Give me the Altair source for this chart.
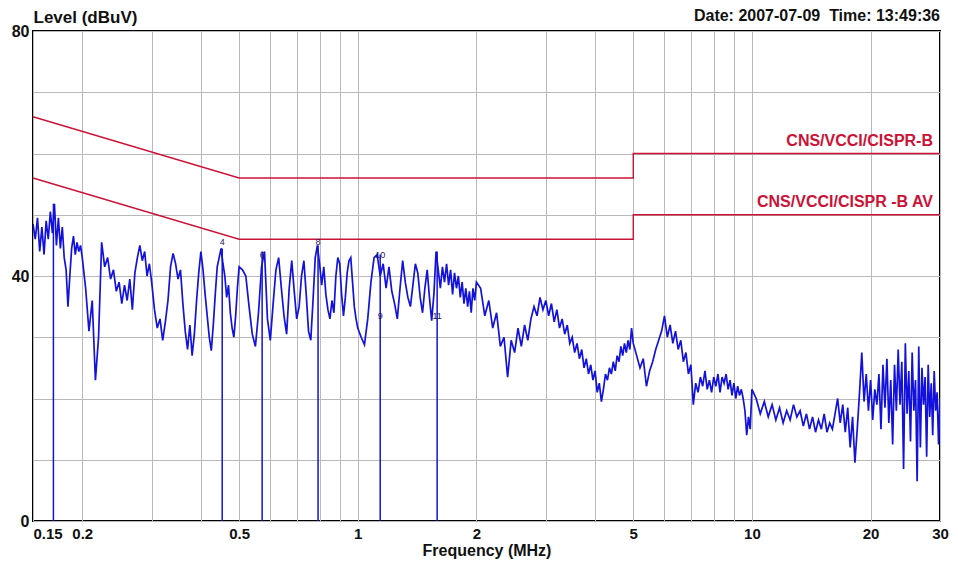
import altair as alt
import pandas as pd

# ---------------- measured trace (frequency MHz, level dBuV) ----------------
F_A = [0.150, 0.152, 0.154, 0.156, 0.158, 0.160, 0.162, 0.164, 0.166, 0.168,
       0.170, 0.172, 0.174, 0.176, 0.178, 0.180, 0.182, 0.184, 0.186, 0.188,
       0.190, 0.192, 0.194, 0.196, 0.198, 0.200]
L_A = [48.5, 46.0, 49.5, 44.0, 48.0, 43.5, 49.0, 46.0, 50.5, 47.0,
       51.8, 45.0, 49.5, 44.5, 48.0, 43.0, 41.0, 35.0, 40.0, 44.5,
       46.5, 43.5, 45.5, 44.0, 45.0, 43.0]

F_B = [0.204, 0.208, 0.212, 0.216, 0.220, 0.224, 0.228, 0.232, 0.236, 0.240,
       0.244, 0.248, 0.252, 0.256, 0.260, 0.264, 0.268, 0.272, 0.276, 0.280,
       0.284, 0.288, 0.292, 0.296, 0.300]
L_B = [38.0, 31.0, 36.0, 23.0, 30.0, 45.5, 41.5, 43.0, 39.5, 41.0,
       37.5, 39.0, 35.5, 38.5, 36.0, 39.5, 34.5, 40.5, 43.0, 45.0,
       42.5, 44.0, 40.0, 42.0, 39.0]

F_C = [0.305, 0.310, 0.315, 0.320, 0.325, 0.330, 0.335, 0.340, 0.345, 0.350,
       0.355, 0.360, 0.365, 0.370, 0.375, 0.380, 0.385, 0.390, 0.395, 0.400,
       0.405, 0.410, 0.415, 0.420, 0.425, 0.430, 0.435, 0.440, 0.445, 0.450,
       0.455, 0.460, 0.465, 0.470, 0.475, 0.480, 0.485, 0.490, 0.495, 0.500]
L_C = [34.5, 31.5, 33.0, 29.5, 32.5, 36.0, 41.5, 43.7, 42.0, 39.5,
       41.0, 35.5, 31.0, 28.0, 32.0, 27.0, 30.5, 36.0, 40.5, 44.0,
       41.0, 37.0, 33.5, 30.0, 27.8, 32.0, 37.0, 41.5, 43.0, 44.5,
       42.0, 40.0, 36.5, 38.5, 34.0, 31.5, 30.0, 33.5, 38.0, 41.5]

F_D = [0.51, 0.52, 0.53, 0.54, 0.55, 0.56, 0.57, 0.58, 0.59, 0.60,
       0.61, 0.62, 0.63, 0.64, 0.65, 0.66, 0.67, 0.68, 0.69, 0.70,
       0.71, 0.72, 0.73, 0.74, 0.75, 0.76, 0.77, 0.78, 0.79, 0.80,
       0.81, 0.82, 0.83, 0.84, 0.85, 0.86, 0.87, 0.88, 0.89, 0.90,
       0.91, 0.92, 0.93, 0.94, 0.95, 0.96, 0.97, 0.98, 0.99, 1.00]
L_D = [41.0, 40.0, 35.0, 30.5, 28.5, 34.0, 41.5, 44.0, 33.0, 29.5,
       35.5, 41.0, 43.0, 38.0, 33.5, 30.5, 38.0, 42.5, 37.5, 33.0,
       35.0, 40.0, 42.5, 37.0, 31.0, 29.5, 36.0, 43.0, 45.0, 42.0,
       38.5, 41.5, 37.0, 34.5, 33.0, 36.0, 34.0, 40.0, 43.0, 42.0,
       37.0, 33.5, 36.5, 40.5, 42.5, 43.0, 39.0, 35.0, 33.0, 31.5]

F_E = [1.02, 1.04, 1.06, 1.08, 1.10, 1.12, 1.14, 1.16, 1.18, 1.20,
       1.22, 1.24, 1.26, 1.28, 1.30, 1.32, 1.34, 1.36, 1.38, 1.40,
       1.42, 1.44, 1.46, 1.48, 1.50, 1.52, 1.54, 1.56, 1.58, 1.60,
       1.62, 1.64, 1.66, 1.68, 1.70, 1.72, 1.74, 1.76, 1.78, 1.80,
       1.82, 1.84, 1.86, 1.88, 1.90, 1.92, 1.94, 1.96, 1.98, 2.00]
L_E = [30.0, 28.8, 33.0, 39.0, 43.0, 43.5, 40.0, 42.0, 38.0, 41.5,
       37.5, 35.5, 33.0, 38.0, 42.5, 39.0, 36.5, 35.0, 38.5, 42.0,
       40.5, 36.5, 34.0, 38.0, 41.0, 36.5, 32.7, 37.0, 44.0, 41.0,
       38.0, 41.5, 39.0, 42.0, 38.5, 41.0, 37.0, 40.5, 38.0, 40.0,
       36.5, 39.0, 35.5, 38.0, 35.0, 37.5, 34.0, 38.0, 36.0, 39.0]

F_F = [2.05, 2.10, 2.15, 2.20, 2.25, 2.30, 2.35, 2.40, 2.45, 2.50,
       2.55, 2.60, 2.65, 2.70, 2.75, 2.80, 2.85, 2.90, 2.95, 3.00,
       3.05, 3.10, 3.15, 3.20, 3.25, 3.30, 3.35, 3.40, 3.45, 3.50,
       3.55, 3.60, 3.65, 3.70, 3.75, 3.80, 3.85, 3.90, 3.95, 4.00,
       4.05, 4.10, 4.15, 4.20, 4.25, 4.30, 4.35, 4.40, 4.45, 4.50,
       4.55, 4.60, 4.65, 4.70, 4.75, 4.80, 4.85, 4.90, 4.95, 5.00]
L_F = [38.0, 33.5, 36.0, 31.5, 34.0, 28.5, 30.0, 23.5, 29.5, 27.5,
       31.5, 28.5, 32.0, 29.5, 33.0, 35.0, 33.5, 36.5, 34.5, 36.0,
       33.5, 35.5, 32.5, 34.5, 31.5, 33.0, 30.5, 32.0, 29.0, 30.0,
       27.5, 29.0, 26.5, 28.0, 25.0, 26.5, 24.0, 25.5, 23.0, 24.5,
       21.0, 22.5, 19.5, 21.5, 24.0, 23.0, 25.0, 24.0, 26.0, 24.5,
       27.0, 26.0, 28.5, 27.0, 29.0, 27.5, 29.5, 28.0, 31.5, 29.0]

F_G = [5.1, 5.2, 5.3, 5.4, 5.5, 5.6, 5.7, 5.8, 5.9, 6.0,
       6.1, 6.2, 6.3, 6.4, 6.5, 6.6, 6.7, 6.8, 6.9, 7.0,
       7.1, 7.2, 7.3, 7.4, 7.5, 7.6, 7.7, 7.8, 7.9, 8.0,
       8.1, 8.2, 8.3, 8.4, 8.5, 8.6, 8.7, 8.8, 8.9, 9.0,
       9.1, 9.2, 9.3, 9.4, 9.5, 9.6, 9.7, 9.8, 9.9, 10.0]
L_G = [27.0, 25.0, 26.5, 22.0, 24.5, 26.0, 28.0, 29.5, 31.0, 33.5,
       30.0, 32.0, 29.0, 31.0, 28.0, 29.5, 26.0, 27.5, 24.0, 25.5,
       19.0, 22.5, 21.0, 23.5, 22.0, 24.5, 21.5, 23.0, 21.0, 23.5,
       22.0, 24.0, 21.0, 23.5, 22.5, 24.0, 21.5, 23.0, 20.5, 22.5,
       20.0, 22.0, 20.5, 21.5, 20.0, 18.0, 14.0, 17.0, 15.0, 21.5]

F_H = [10.25, 10.50, 10.75, 11.00, 11.25, 11.50, 11.75, 12.00, 12.25, 12.50,
       12.75, 13.00, 13.25, 13.50, 13.75, 14.00, 14.25, 14.50, 14.75, 15.00,
       15.25, 15.50, 15.75, 16.00, 16.25, 16.50, 16.75, 17.00, 17.25, 17.50,
       17.75, 18.00, 18.25, 18.50, 18.75, 19.00, 19.25, 19.50, 19.75, 20.00,
       20.25, 20.50, 20.75, 21.00, 21.25, 21.50, 21.75, 22.00, 22.25, 22.50,
       22.75, 23.00, 23.25, 23.50, 23.75, 24.00, 24.25, 24.50, 24.75, 25.00,
       25.25, 25.50, 25.75, 26.00, 26.25, 26.50, 26.75, 27.00, 27.25, 27.50,
       27.75, 28.00, 28.25, 28.50, 28.75, 29.00, 29.25, 29.50, 29.75, 30.00]
L_H = [20.0, 17.5, 19.5, 17.0, 19.0, 16.5, 18.5, 16.0, 18.0, 16.5,
       19.0, 17.0, 18.0, 15.5, 17.5, 15.0, 17.0, 14.5, 16.5, 15.0,
       17.5, 14.5, 16.0, 15.0, 17.5, 20.0, 16.0, 19.0, 14.5, 18.5,
       12.0, 17.0, 9.5, 15.0, 21.0, 27.5, 19.5, 24.0, 18.0, 23.0,
       16.5, 21.5, 19.0, 24.0, 15.0, 25.5, 18.5, 26.5, 16.0, 23.0,
       12.5, 25.5, 18.0, 28.0, 19.0, 26.0, 8.5, 29.0, 17.5, 24.5,
       13.0, 27.5, 18.0, 23.0, 6.5, 28.5, 12.0, 25.0, 19.0, 23.5,
       10.5, 25.5, 17.0, 22.5, 14.0, 24.5, 18.0, 21.0, 12.5, 20.0]

FREQ = F_A + F_B + F_C + F_D + F_E + F_F + F_G + F_H
LEVEL = L_A + L_B + L_C + L_D + L_E + L_F + L_G + L_H

# ---------------- limit lines ----------------
QP_F = [0.15, 0.5, 5.0, 5.0, 30.0]
QP_L = [66.0, 56.0, 56.0, 60.0, 60.0]
AV_F = [0.15, 0.5, 5.0, 5.0, 30.0]
AV_L = [56.0, 46.0, 46.0, 50.0, 50.0]
LIMIT_NAMES = ["CNS/VCCI/CISPR-B", "CNS/VCCI/CISPR -B AV"]
LIMIT_LABEL_F = [28.8, 28.8]
LIMIT_LABEL_L = [60.0, 50.0]

# ---------------- markers ----------------
MK_FREQ = [0.169, 0.453, 0.572, 0.793, 1.14, 1.59]
MK_LEVEL = [51.8, 44.5, 44.0, 45.0, 43.5, 44.0]
MKL_FREQ = [0.453, 0.572, 0.793, 1.14, 1.14, 1.59]
MKL_LEVEL = [45.5, 43.5, 45.5, 43.5, 33.5, 33.5]
MKL_TEXT = ["4", "6", "8", "10", "9", "11"]

X_GRID = [0.15, 0.2, 0.3, 0.4, 0.5, 0.6, 0.7, 0.8, 0.9, 1, 2, 3, 4, 5, 6, 7, 8, 9, 10, 20, 30]
Y_GRID = [0, 10, 20, 30, 40, 50, 60, 70, 80]

HEADER = "Date: 2007-07-09\u00a0\u00a0Time: 13:49:36"

FONT = "Liberation Sans"
BLUE = "#1212dc"
RED = "#cc1236"

trace = pd.DataFrame({"freq": FREQ, "level": LEVEL})
limits = pd.DataFrame({
    "freq": QP_F + AV_F,
    "level": QP_L + AV_L,
    "limit": ["QP"] * len(QP_F) + ["AV"] * len(AV_F),
    "idx": list(range(len(QP_F))) + list(range(len(AV_F))),
})
limit_labels = pd.DataFrame({"freq": LIMIT_LABEL_F, "level": LIMIT_LABEL_L, "name": LIMIT_NAMES})
markers = pd.DataFrame({"freq": MK_FREQ, "level": MK_LEVEL, "base": [0.0] * len(MK_FREQ)})
marker_labels = pd.DataFrame({"freq": MKL_FREQ, "level": MKL_LEVEL, "txt": MKL_TEXT})

xscale = alt.Scale(type="log", domain=[0.15, 30], nice=False)
yscale = alt.Scale(domain=[0, 80], nice=False, zero=False)

x_axis = alt.Axis(
    title="Frequency (MHz)",
    values=X_GRID,
    labelExpr="indexof([0.15,0.2,0.5,1,2,5,10,20,30], datum.value) >= 0 ? format(datum.value, '~g') : ''",
    labelAlign=alt.ExprRef(expr="datum.value == 0.15 ? 'left' : 'center'"),
    labelFlush=False,
    labelOverlap=False,
    labelBound=False,
    labelPadding=5,
    labelFontSize=15,
    titlePadding=1,
    titleFontSize=16,
    ticks=False,
    domain=False,
    grid=True,
)
y_axis = alt.Axis(
    title="Level (dBuV)",
    values=Y_GRID,
    labelExpr="datum.value % 40 == 0 ? datum.label : ''",
    labelPadding=4,
    labelOverlap=False,
    ticks=False,
    domain=False,
    grid=True,
    titleAngle=0,
    titleAlign="left",
    titleBaseline="alphabetic",
    titleX=0,
    titleY=-9,
)

X = alt.X("freq:Q", scale=xscale, axis=x_axis)
Y = alt.Y("level:Q", scale=yscale, axis=y_axis)

base_trace = alt.Chart(trace).mark_line(color=BLUE, strokeWidth=1.7, clip=True).encode(x=X, y=Y)

marker_rules = alt.Chart(markers).mark_rule(color=BLUE, strokeWidth=1.5).encode(
    x=X,
    y=alt.Y("base:Q", scale=yscale, axis=y_axis),
    y2="level:Q",
)

limit_lines = alt.Chart(limits).mark_line(color=RED, strokeWidth=1.4).encode(
    x=X, y=Y, detail="limit:N", order="idx:Q",
)

limit_text = alt.Chart(limit_labels).mark_text(
    align="right", baseline="bottom", dy=-5, font=FONT, fontSize=16, fontWeight="bold", color=RED
).encode(x=X, y=Y, text="name:N")

marker_text = alt.Chart(marker_labels).mark_text(
    align="center", baseline="middle", font=FONT, fontSize=9, color="#1a1a60"
).encode(x=X, y=Y, text="txt:N")

header = alt.Chart(pd.DataFrame({"t": [HEADER]})).mark_text(
    align="right", baseline="alphabetic", font=FONT, fontSize=16, fontWeight="bold", color="#111111"
).encode(
    x=alt.value(907),
    y=alt.value(-10),
    text="t:N",
)

chart = alt.layer(
    base_trace, marker_rules, limit_lines, limit_text, marker_text, header
).properties(
    width=907,
    height=490,
    autosize=alt.AutoSizeParams(type="none"),
    padding={"left": 25, "top": 23, "right": 10, "bottom": 40},
    background="white",
).configure_view(
    stroke="black", strokeWidth=2
).configure_axis(
    gridColor="#b9b9b9",
    gridWidth=1,
    labelFont=FONT,
    labelFontSize=16,
    labelFontWeight="bold",
    labelColor="#111111",
    titleFont=FONT,
    titleFontSize=17,
    titleFontWeight="bold",
    titleColor="#111111",
)

chart.save("out.html", embed_options={"renderer": "svg", "actions": False})
